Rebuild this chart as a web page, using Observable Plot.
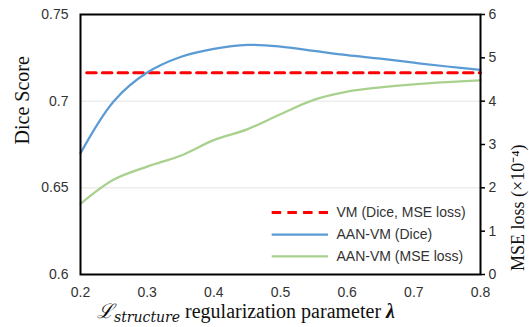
<!DOCTYPE html>
<html>
<head>
<meta charset="utf-8">
<script src="https://cdn.jsdelivr.net/npm/d3@7"></script>
<script src="https://cdn.jsdelivr.net/npm/@observablehq/plot@0.6"></script>
<style>
  html, body { margin: 0; padding: 0; background: white; }
</style>
</head>
<body>
<div id="chart"></div>
<script>
// ---- data ----
const lambda   = [0.2, 0.25, 0.3, 0.35, 0.4, 0.45, 0.5, 0.55, 0.6, 0.65, 0.7, 0.75, 0.8];
const diceAAN  = [0.670, 0.700, 0.7165, 0.7255, 0.7302, 0.7325, 0.7315, 0.729, 0.7265, 0.7245, 0.7222, 0.720, 0.7181];
const mseAAN   = [1.63, 2.19, 2.49, 2.74, 3.10, 3.35, 3.70, 4.03, 4.22, 4.32, 4.39, 4.44, 4.48];
const vmLambda = [0.2, 0.8];
const vmDice   = 0.7164;
const xTicks    = [0.2, 0.3, 0.4, 0.5, 0.6, 0.7, 0.8];
const diceTicks = [0.6, 0.65, 0.7, 0.75];
const mseTicks  = [0, 1, 2, 3, 4, 5, 6];
const gridTicks = [0.65, 0.7];
const seriesNames = ["VM (Dice, MSE loss)", "AAN-VM (Dice)", "AAN-VM (MSE loss)"];
const colors = ["#ff0000", "#5b9bd5", "#a9d18e"];

// mse (right axis, 0..6) mapped onto dice axis (0.6..0.75)
const toDice = m => 0.6 + m * 0.025;

const aan = lambda.map((l, i) => ({l, dice: diceAAN[i], mse: mseAAN[i]}));
const vm = vmLambda.map(l => ({l, dice: vmDice}));

// legend layout (in data space, lower-right of the frame)
const legX1 = 0.4875, legX2 = 0.572, legTX = 0.584;
const legend = seriesNames.map((name, i) => ({name, color: colors[i], y: 0.6357 - i * 0.01265}));

const plot = Plot.plot({
  width: 529,
  height: 327,
  marginLeft: 80,
  marginRight: 49,
  marginTop: 14,
  marginBottom: 53,
  x: {domain: [0.2, 0.8]},
  y: {domain: [0.6, 0.75]},
  style: {fontFamily: "'Liberation Sans', Arial, sans-serif", fontSize: "14px", color: "#333", background: "white"},
  marks: [
    Plot.ruleY(gridTicks, {stroke: "#e4e4e4", strokeWidth: 1}),
    Plot.line(vm, {x: "l", y: "dice", stroke: colors[0], strokeWidth: 3, strokeDasharray: "9.5,6.2", strokeDashoffset: 9.5}),
    Plot.line(aan, {x: "l", y: "dice", stroke: colors[1], strokeWidth: 2.25, curve: "catmull-rom"}),
    Plot.line(aan, {x: "l", y: d => toDice(d.mse), stroke: colors[2], strokeWidth: 2.25, curve: "catmull-rom"}),
    // legend
    Plot.ruleY([legend[0]], {x1: legX1, x2: legX2, y: "y", stroke: colors[0], strokeWidth: 3, strokeDasharray: "9.5,6.2"}),
    Plot.ruleY([legend[1]], {x1: legX1, x2: legX2, y: "y", stroke: colors[1], strokeWidth: 2.25}),
    Plot.ruleY([legend[2]], {x1: legX1, x2: legX2, y: "y", stroke: colors[2], strokeWidth: 2.25}),
    Plot.text(legend, {x: legTX, y: "y", text: "name", textAnchor: "start", fontSize: 14, fill: "#333"}),
    // axes
    Plot.axisX(xTicks, {tickSize: 0, tickPadding: 13, tickFormat: d => d.toFixed(1), label: null, fontSize: 14}),
    Plot.axisY(diceTicks, {anchor: "left", tickSize: 0, tickPadding: 12, tickFormat: d => String(d), label: null, fontSize: 14}),
    Plot.axisY(mseTicks, {anchor: "right", y: d => toDice(d), tickSize: 4, tickPadding: 4, strokeWidth: 1.5, stroke: "#000", tickFormat: d => String(d), label: null, fontSize: 14}),
    Plot.frame({stroke: "#000", strokeWidth: 2}),
    // axis titles
    Plot.text(["Dice Score"], {text: d => d, frameAnchor: "left", dx: -58, rotate: -90, fontFamily: "'Liberation Serif', 'Times New Roman', serif", fontSize: 20, fill: "#111"}),
    Plot.text(["MSE loss (×10⁻⁴)"], {text: d => d, frameAnchor: "right", dx: 38, rotate: -90, fontFamily: "'Liberation Serif', 'Times New Roman', serif", fontSize: 18, fill: "#111"})
  ]
});

// x-axis title with a subscript and italic lambda
const svg = d3.select(plot);
const t = svg.append("text")
  .attr("x", 246)
  .attr("y", 318)
  .attr("text-anchor", "middle")
  .attr("fill", "#111")
  .style("font-family", "'Liberation Serif', 'Times New Roman', serif")
  .style("font-size", "20px");
t.append("tspan").style("font-family", "'DejaVu Serif', serif").style("font-style", "italic").text("ℒ");
t.append("tspan").attr("dy", 4).style("font-size", "14px").style("font-style", "italic").style("font-family", "'DejaVu Serif', serif").text("structure");
t.append("tspan").attr("dy", -4).text(" regularization parameter ");
t.append("tspan").style("font-style", "italic").style("font-weight", "bold").text("λ");

document.getElementById("chart").appendChild(plot);
</script>
</body>
</html>
